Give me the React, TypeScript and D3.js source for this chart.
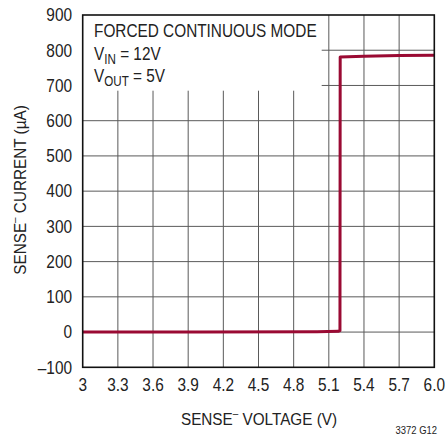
import React from 'react';
import * as d3 from 'd3';

// sense voltage (V) vs sense- current (uA)
const voltage = [3.0, 4.0, 5.0, 5.18, 5.195, 5.197, 5.4, 5.7, 6.0];
const current = [0, 0.5, 1, 2, 4, 781, 783, 785, 786];
const xTicks = [3, 3.3, 3.6, 3.9, 4.2, 4.5, 4.8, 5.1, 5.4, 5.7, 6.0];
const xTickLabels = ['3', '3.3', '3.6', '3.9', '4.2', '4.5', '4.8', '5.1', '5.4', '5.7', '6.0'];
const yTicks = [-100, 0, 100, 200, 300, 400, 500, 600, 700, 800, 900];
const yTickLabels = ['–100', '0', '100', '200', '300', '400', '500', '600', '700', '800', '900'];

const W = 445;
const H = 438;
const margin = {top: 15, right: 10.7, bottom: 70.7, left: 82.7};
const FONT = '"Liberation Sans", Arial, sans-serif';
const SQ = 0.86; // condense the regular face a bit

const App = () => {
    const x = d3.scaleLinear().domain([3, 6]).range([margin.left, W - margin.right]);
    const y = d3.scaleLinear().domain([-100, 900]).range([H - margin.bottom, margin.top]);

    const line = d3.line<number>()
        .x((d, i) => x(voltage[i]))
        .y(d => y(d));

    const boxRight = 321.7;
    const boxBottom = 90.7;

    return (
        <svg width={W} height={H} style={{position: 'absolute', left: 0, top: 0}} fontFamily={FONT}>
            <rect x={0} y={0} width={W} height={H} fill="#fff"/>
            {/* grid */}
            <g stroke="#5a5a5a" strokeWidth={1}>
                {xTicks.slice(1, -1).map(t => (
                    <line key={'vx' + t} x1={x(t)} x2={x(t)}
                          y1={x(t) < boxRight ? boxBottom : y(900)} y2={y(-100)}/>
                ))}
                {yTicks.slice(1, -1).map(t => (
                    <line key={'hy' + t} y1={y(t)} y2={y(t)}
                          x1={y(t) < boxBottom ? boxRight : x(3)} x2={x(6)}/>
                ))}
            </g>
            <path d={line(current) || ''} fill="none" stroke="#9a0a33" strokeWidth={3}
                  strokeLinejoin="round"/>
            <rect x={x(3)} y={y(900)} width={x(6) - x(3)} height={y(-100) - y(900)}
                  fill="none" stroke="#111" strokeWidth={1.6}/>

            {/* annotation */}
            <g fill="#222" fontSize={18.5}>
                <text transform={`translate(94,37) scale(${SQ - 0.03},1)`}>FORCED CONTINUOUS MODE</text>
                <text transform={`translate(94,60) scale(${SQ - 0.03},1)`}>V<tspan fontSize={14} dy={4}>IN</tspan><tspan dy={-4}> = 12V</tspan></text>
                <text transform={`translate(94,82) scale(${SQ - 0.03},1)`}>V<tspan fontSize={14} dy={4}>OUT</tspan><tspan dy={-4}> = 5V</tspan></text>
            </g>

            {/* tick labels */}
            <g fill="#222" fontSize={17.5}>
                {yTicks.map((t, i) => (
                    <text key={'yl' + t} transform={`translate(72,${y(t) + 6.3}) scale(${SQ + 0.02},1)`}
                          textAnchor="end">{yTickLabels[i]}</text>
                ))}
                {xTicks.map((t, i) => (
                    <text key={'xl' + t} transform={`translate(${x(t)},391) scale(${SQ + 0.02},1)`}
                          textAnchor="middle">{xTickLabels[i]}</text>
                ))}
            </g>

            {/* axis titles */}
            <text transform={`translate(259,425) scale(${SQ + 0.04},1)`} textAnchor="middle" fontSize={17} fill="#222">
                SENSE<tspan fontSize={11} dy={-8}>–</tspan><tspan dy={8}> VOLTAGE (V)</tspan>
            </text>
            <text transform={`translate(26,190) rotate(-90) scale(${SQ + 0.04},1)`} textAnchor="middle" fontSize={17} fill="#222">
                SENSE<tspan fontSize={11} dy={-8}>–</tspan><tspan dy={8}> CURRENT (µA)</tspan>
            </text>
            <text transform={`translate(437,434) scale(0.9,1)`} textAnchor="end" fontSize={10.5} fill="#222">3372 G12</text>
        </svg>
    );
};

export default App;
